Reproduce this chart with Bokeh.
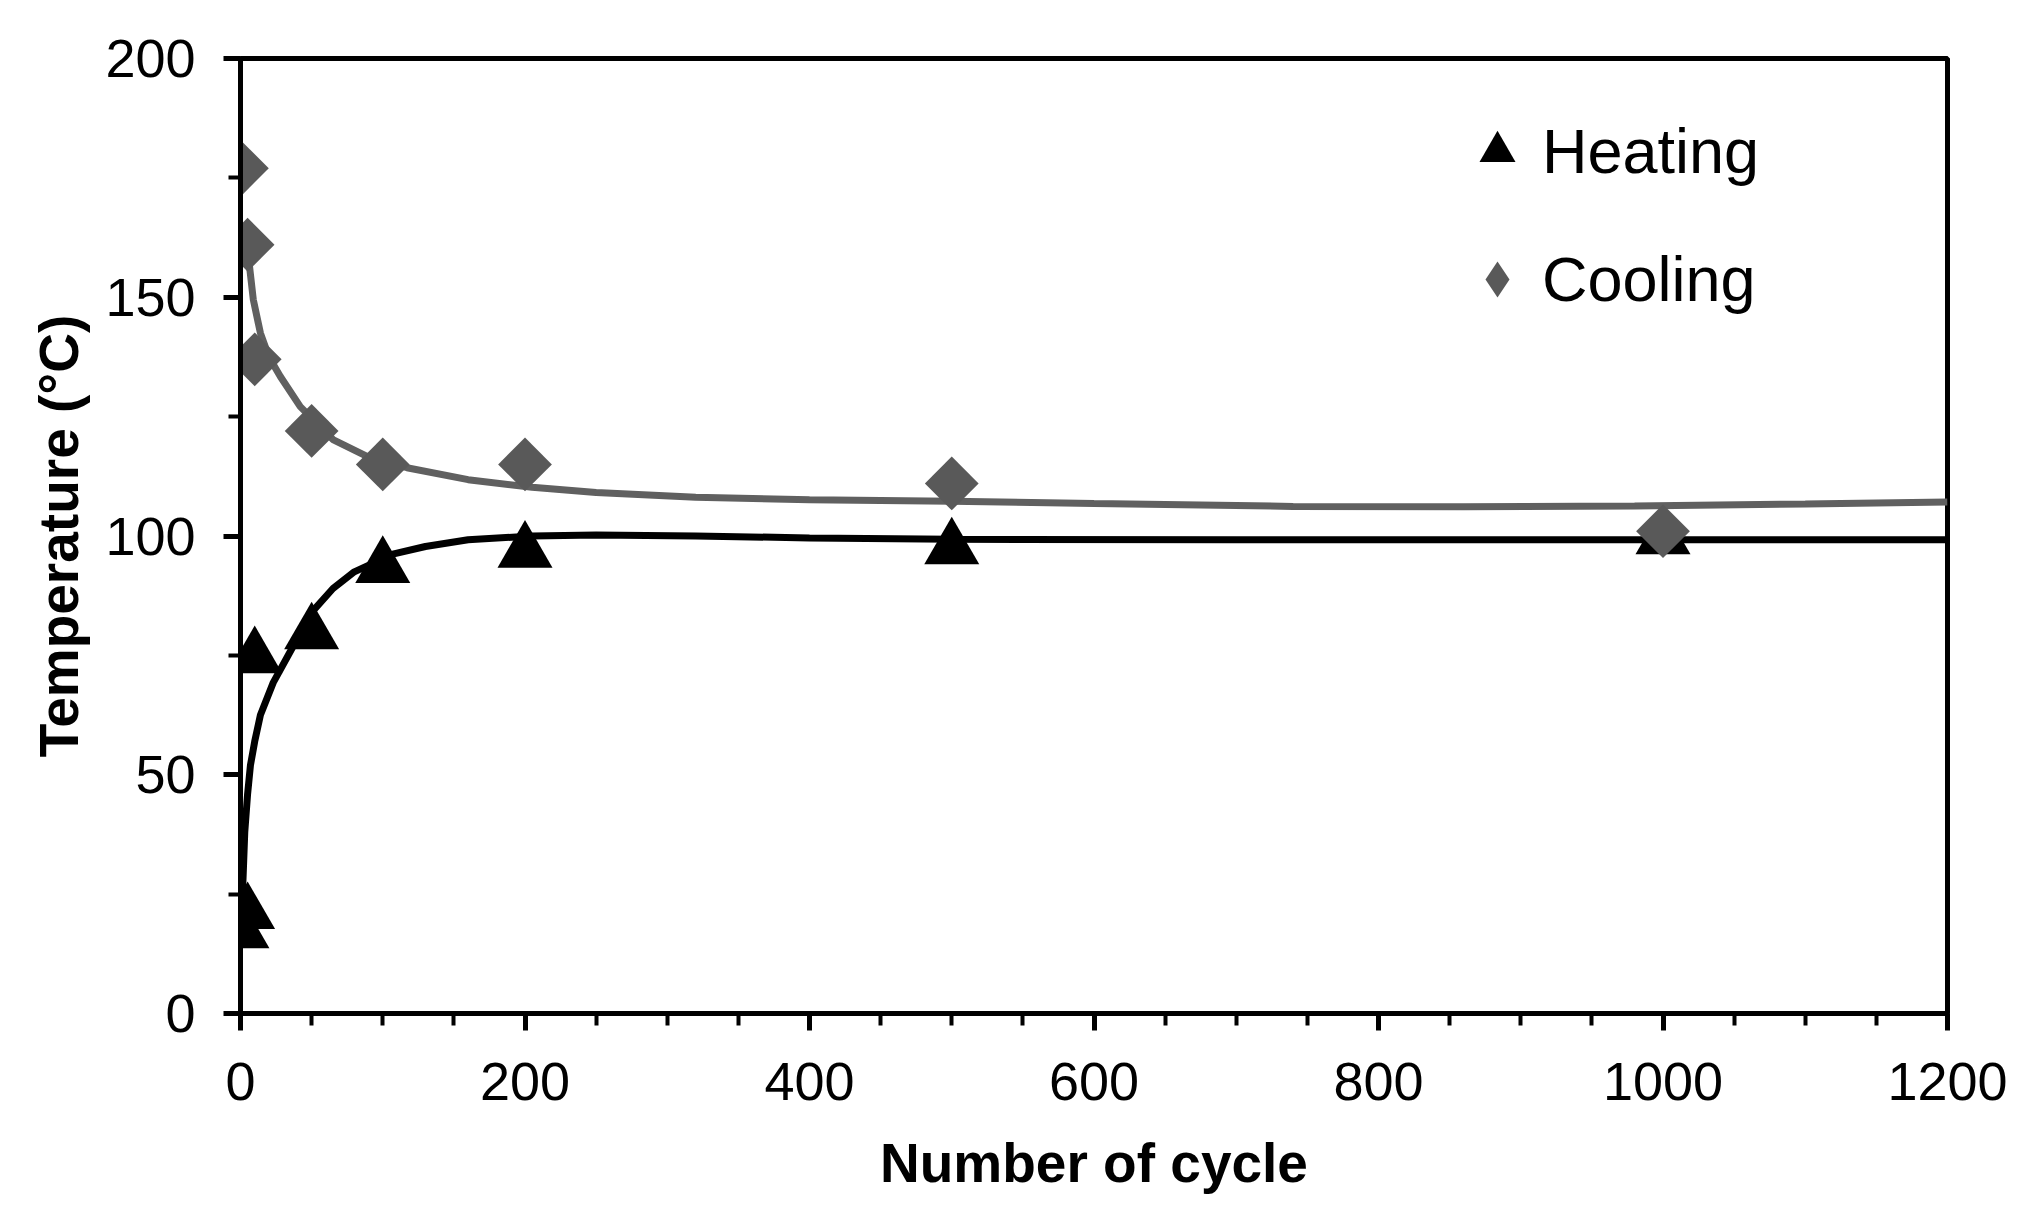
import math
from bokeh.plotting import figure
from bokeh.models import Range1d, Legend, LegendItem, FixedTicker
from bokeh.embed import file_html
from bokeh.resources import INLINE

# ---- data ----
cycles = [1, 5, 10, 50, 100, 200, 500, 1000]
heating = [17, 21, 74.6, 79.6, 93.5, 96.7, 97.4, 99.5]
cooling = [177, 161, 137, 122, 115, 115, 111, 101]

# fitted trend curves
heat_fit_x = [1, 2, 3, 5, 7, 10, 14, 23, 35, 50, 65, 80, 107, 130, 160, 205, 250, 320, 400, 500, 700, 1000, 1200]
heat_fit_y = [22, 30, 38, 46, 52, 57, 62.5, 69.3, 75.8, 84, 89, 92.5, 96.2, 97.8, 99.2, 100, 100.2, 100, 99.6, 99.3, 99.2, 99.2, 99.2]
cool_fit_x = [5, 9, 14, 20, 28, 42, 65, 90, 117, 160, 205, 250, 320, 400, 500, 600, 740, 860, 980, 1100, 1200]
cool_fit_y = [160, 149.5, 142.5, 137.5, 133.4, 127.1, 120.2, 116.5, 114.3, 111.8, 110.2, 109.1, 108.1, 107.6, 107.3, 106.8, 106.2, 106.1, 106.3, 106.7, 107.1]

x_ticks = [0, 200, 400, 600, 800, 1000, 1200]
x_minor = list(range(0, 1201, 50))
y_ticks = [0, 50, 100, 150, 200]
y_minor = list(range(0, 201, 25))

FONT = "Liberation Sans"

p = figure(width=2028, height=1216, output_backend="svg", toolbar_location=None,
           x_range=Range1d(0, 1200), y_range=Range1d(0, 200),
           min_border_left=240, min_border_right=81, min_border_top=58, min_border_bottom=203)

p.background_fill_color = "white"
p.border_fill_color = "white"
p.outline_line_color = "black"
p.outline_line_width = 5
p.xgrid.visible = False
p.ygrid.visible = False

p.xaxis.ticker = FixedTicker(ticks=x_ticks, minor_ticks=x_minor)
p.yaxis.ticker = FixedTicker(ticks=y_ticks, minor_ticks=y_minor)
p.xaxis.axis_label = "Number of cycle"
p.yaxis.axis_label = "Temperature (°C)"

for ax in (p.xaxis[0], p.yaxis[0]):
    ax.axis_line_width = 5
    ax.axis_line_color = "black"
    ax.major_tick_line_width = 5
    ax.major_tick_line_color = "black"
    ax.major_tick_out = 17
    ax.major_tick_in = 0
    ax.minor_tick_line_width = 4
    ax.minor_tick_line_color = "black"
    ax.minor_tick_out = 12
    ax.minor_tick_in = 0
    ax.major_label_text_font = FONT
    ax.major_label_text_font_size = "54px"
    ax.major_label_text_color = "black"
    ax.axis_label_text_font = FONT
    ax.axis_label_text_font_size = "55px"
    ax.axis_label_text_font_style = "bold"
    ax.axis_label_text_color = "black"

p.xaxis.major_label_standoff = 32
p.xaxis.axis_label_standoff = 29
p.yaxis.major_label_standoff = 28
p.yaxis.axis_label_standoff = 12

# curves
p.line(heat_fit_x, heat_fit_y, line_color="black", line_width=7)
p.line(cool_fit_x, cool_fit_y, line_color="#606060", line_width=7)

# markers
r_heat = p.scatter(cycles, heating, marker="triangle", size=55,
                   fill_color="black", line_color="black", line_width=0)
r_cool = p.scatter(cycles, cooling, marker="square", angle=math.pi / 4, size=38,
                   fill_color="#595959", line_color="#595959", line_width=0)
r_cool_leg = p.scatter(cycles, cooling, marker="diamond", size=38,
                       fill_color="#595959", line_color="#595959", line_width=0, visible=False)

legend = Legend(items=[LegendItem(label="Heating", renderers=[r_heat]),
                       LegendItem(label="Cooling", renderers=[r_cool_leg])],
                location=(1212, 689), glyph_width=90, glyph_height=90,
                spacing=38, padding=0, margin=0, label_standoff=0,
                label_text_font=FONT, label_text_font_size="63px", label_text_color="black",
                border_line_alpha=0, background_fill_alpha=0)
p.add_layout(legend)

open("out.html", "w").write(file_html(p, INLINE))
